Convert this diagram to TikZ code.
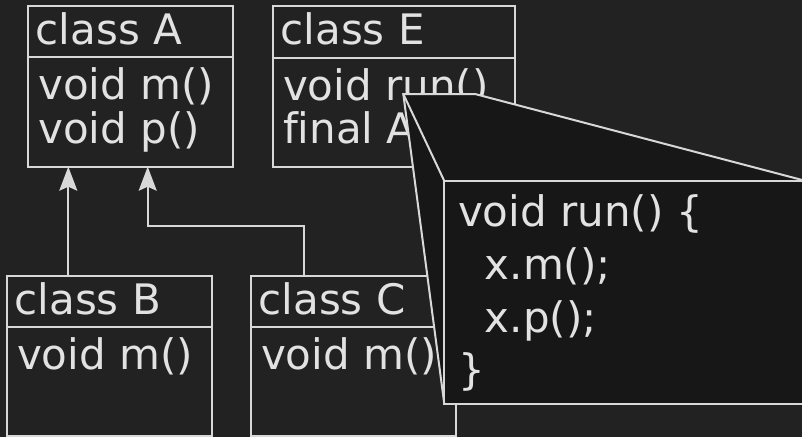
\documentclass[tikz,border=0pt]{standalone}
\usepackage{fontspec}
\setmainfont{DejaVu Sans}[Ligatures=NoCommon]
\usetikzlibrary{arrows.meta}
\definecolor{bg}{HTML}{222222}
\definecolor{ink}{HTML}{E2E2E2}
\definecolor{rule}{HTML}{D8D8D8}
\definecolor{zoomfill}{HTML}{171717}

\begin{document}
\begin{tikzpicture}[x=1pt,y=-1pt,
  classbox/.style={draw=rule, line width=2pt, fill=bg, inner sep=0pt, outer sep=0pt, anchor=north west},
  divider/.style={draw=rule, line width=2pt},
  txt/.style={text=ink, inner sep=0pt, anchor=base west, font=\fontsize{42}{50}\selectfont},
  inherit/.style={draw=rule, line width=2pt, -{Stealth[length=24pt,width=18pt,inset=4pt]}},
  zoomline/.style={draw=rule, line width=2pt, line join=miter},
]
% canvas
\useasboundingbox (0,0) rectangle (802,437);
\fill[bg] (0,0) rectangle (802,437);
\clip (0,0) rectangle (802,437);

% class boxes
\node[classbox, minimum width=205pt,   minimum height=160.4pt] (A) at (28,6.3) {};
\node[classbox, minimum width=242.6pt, minimum height=160.4pt] (E) at (272.7,6.3) {};
\node[classbox, minimum width=205.3pt, minimum height=159.7pt] (B) at (6.7,276.3) {};
\node[classbox, minimum width=205pt,   minimum height=159.7pt] (C) at (250.7,276.3) {};

% header / member separators
\draw[divider] ([yshift=-51pt]A.north west) -- ([yshift=-51pt]A.north east);
\draw[divider] ([yshift=-51.2pt]E.north west) -- ([yshift=-51.2pt]E.north east);
\draw[divider] ([yshift=-51pt]B.north west) -- ([yshift=-51pt]B.north east);
\draw[divider] ([yshift=-51pt]C.north west) -- ([yshift=-51pt]C.north east);

% class texts
\node[txt] (Ah)  at (35.6,44.6)  {class A};
\node[txt] (Am1) at (38.1,99.8)  {void m()};
\node[txt] (Am2) at (38.1,143.1) {void p()};

\node[txt] (Eh)  at (280.3,44.6)  {class E};
\node[txt] (Em1) at (282.8,100)   {void run()};
\node[txt] (Em2) at (282.8,143.3) {final A x;};

\node[txt] (Bh)  at (14.3,314.6) {class B};
\node[txt] (Bm1) at (16.8,369.8) {void m()};

\node[txt] (Ch)  at (258.3,314.6) {class C};
\node[txt] (Cm1) at (260.8,369.8) {void m()};

% inheritance connectors
\draw[inherit] ([xshift=61.6pt]B.north west) -- ([xshift=40.3pt]A.south west);
\draw[inherit] ([xshift=53pt]C.north west) -- ++(0,-50.3) -| ([xshift=119.7pt]A.south west);

% magnified view of run()
\coordinate (apex) at (403.3,94);
\coordinate (apexr) at (475,94);
\node[inner sep=0pt, outer sep=0pt, minimum width=361.7pt, minimum height=223pt, anchor=north west]
  (code) at (444.3,181) {};
\fill[zoomfill] (apex) -- (apexr) -- (code.north east) -- (code.south east)
  -- (code.south west) -- cycle;
\draw[zoomline] (code.north west) rectangle (code.south east);
\draw[zoomline] (code.north east) -- (apexr) -- (apex) -- (code.south west);
\draw[zoomline] (apex) -- (code.north west);

\node[txt] (c1) at (457.9,226.7) {void run() \{};
\node[txt] (c2) at (484.6,279.4) {x.m();};
\node[txt] (c3) at (484.6,332.1) {x.p();};
\node[txt] (c4) at (457.9,384.8) {\}};
\end{tikzpicture}
\end{document}
